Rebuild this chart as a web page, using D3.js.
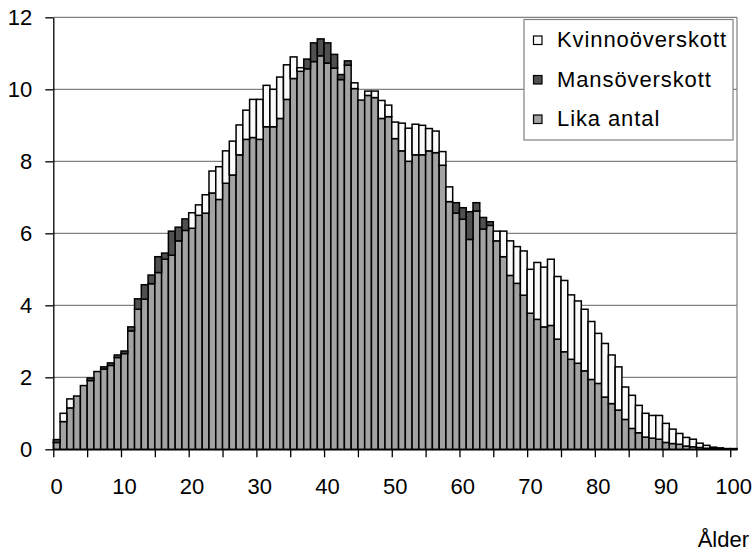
<!DOCTYPE html>
<html>
<head>
<meta charset="utf-8">
<script src="https://cdn.jsdelivr.net/npm/d3@7"></script>
<style>
  html, body { margin: 0; padding: 0; background: #fff; }
  svg { display: block; font-family: "Liberation Sans", Arial, sans-serif; }
</style>
</head>
<body>
<svg id="chart" width="754" height="552"></svg>
<script>
// Ages 0..100
const ages = d3.range(0, 101);

// Lika antal (equal number) – grey base
const lika = [
  0.19, 0.77, 1.15, 1.48, 1.77, 1.91, 2.16, 2.23, 2.33, 2.55,
  2.66, 3.29, 3.89, 4.17, 4.60, 4.91, 5.28, 5.39, 5.79, 6.08,
  6.14, 6.50, 6.56, 7.12, 6.94, 7.39, 7.62, 8.18, 8.61, 8.66,
  8.61, 8.96, 8.96, 9.19, 9.72, 10.30, 10.50, 10.57, 10.77, 10.93,
  10.73, 10.59, 10.27, 10.67, 10.02, 9.70, 9.83, 9.77, 9.19, 9.24,
  8.63, 8.29, 8.00, 8.18, 8.18, 8.29, 8.24, 7.89, 6.88, 6.56,
  6.39, 5.83, 6.62, 6.12, 6.22, 5.79, 5.35, 4.83, 4.61, 4.28,
  3.78, 3.61, 3.40, 3.44, 3.06, 2.71, 2.50, 2.39, 2.18, 1.94,
  1.83, 1.45, 1.27, 1.09, 0.83, 0.58, 0.46, 0.34, 0.31, 0.28,
  0.19, 0.16, 0.14, 0.09, 0.07, 0.05, 0.03, 0.02, 0.01, 0.01,
  0.01
];

// Mansöverskott (male surplus) – dark
const mans = [
  0.08, 0, 0, 0, 0, 0.07, 0, 0.06, 0.07, 0.07,
  0.07, 0.11, 0.29, 0.40, 0.24, 0.44, 0.17, 0.67, 0.38, 0.32,
  0, 0, 0, 0, 0, 0, 0, 0, 0, 0,
  0, 0, 0, 0, 0, 0, 0, 0.27, 0.52, 0.47,
  0.56, 0.38, 0.14, 0.12, 0, 0, 0, 0, 0, 0,
  0, 0, 0, 0, 0, 0, 0, 0, 0, 0.29,
  0.32, 0.77, 0.23, 0.32, 0.10, 0, 0, 0, 0, 0,
  0, 0, 0, 0, 0, 0, 0, 0, 0, 0,
  0, 0, 0, 0, 0, 0, 0, 0, 0, 0,
  0, 0, 0, 0, 0, 0, 0, 0, 0, 0,
  0
];

// Kvinnoöverskott (female surplus) – white
const kvinno = [
  0, 0.23, 0.25, 0, 0, 0, 0, 0, 0, 0,
  0, 0, 0, 0, 0, 0, 0, 0, 0, 0,
  0.43, 0.29, 0.51, 0.61, 0.91, 0.90, 0.94, 0.83, 0.81, 1.06,
  1.11, 1.15, 1.04, 1.15, 0.96, 0.60, 0.10, 0, 0, 0,
  0, 0, 0, 0, 0.16, 0, 0.12, 0.18, 0.50, 0.32,
  0.46, 0.77, 0.92, 0.85, 0.82, 0.62, 0.60, 0.38, 0.41, 0,
  0, 0, 0, 0, 0, 0.27, 0.71, 0.96, 1.02, 1.23,
  1.22, 1.58, 1.66, 1.84, 1.74, 1.98, 1.79, 1.73, 1.71, 1.61,
  1.39, 1.49, 1.35, 1.20, 0.90, 0.92, 0.76, 0.66, 0.63, 0.66,
  0.53, 0.40, 0.30, 0.24, 0.21, 0.12, 0.08, 0.04, 0.03, 0.01,
  0.01
];

const seriesNames = ["Lika antal", "Mansöverskott", "Kvinnoöverskott"];
const yTicks = [0, 2, 4, 6, 8, 10, 12];
const xLabelAges = [0, 10, 20, 30, 40, 50, 60, 70, 80, 90, 100];
const xTickAges = d3.range(0, 101, 5);
const xTitle = "Ålder";

const colors = {
  "Lika antal": "#a3a3a3",
  "Mansöverskott": "#505050",
  "Kvinnoöverskott": "#fafafa"
};

const table = ages.map((a, i) => ({
  age: a,
  "Lika antal": lika[i],
  "Mansöverskott": mans[i],
  "Kvinnoöverskott": kvinno[i]
}));

const svg = d3.select("#chart");
const pLeft = 53.3, pRight = 737, pTop = 17.3, pBottom = 449.3;

const x = d3.scaleBand().domain(ages).range([pLeft, pRight]).paddingInner(0).paddingOuter(0);
const xl = d3.scaleLinear().domain([0, 101]).range([pLeft, pRight]);
const y = d3.scaleLinear().domain([0, 12]).range([pBottom, pTop]);

// gridlines
svg.append("g").selectAll("line").data(yTicks.filter(t => t > 0)).join("line")
  .attr("x1", pLeft).attr("x2", pRight)
  .attr("y1", d => y(d)).attr("y2", d => y(d))
  .attr("stroke", "#808080").attr("stroke-width", 1.2);

// right border
svg.append("line").attr("x1", pRight).attr("x2", pRight).attr("y1", pTop).attr("y2", pBottom)
  .attr("stroke", "#808080").attr("stroke-width", 1.2);

// stacked bars
const stack = d3.stack().keys(seriesNames);
const stacked = stack(table);

svg.append("g").selectAll("g").data(stacked).join("g")
  .attr("fill", d => colors[d.key])
  .selectAll("rect").data(d => d.filter(p => p[1] - p[0] > 0)).join("rect")
  .attr("x", d => x(d.data.age))
  .attr("width", x.bandwidth())
  .attr("y", d => y(d[1]))
  .attr("height", d => y(d[0]) - y(d[1]))
  .attr("stroke", "#000")
  .attr("stroke-width", 1.5);

// y axis
const yAxis = svg.append("g").attr("transform", `translate(${pLeft},0)`)
  .call(d3.axisLeft(y).tickValues(yTicks).tickSize(8).tickSizeOuter(0).tickPadding(13).tickFormat(d3.format("d")));
yAxis.selectAll("path, line").attr("stroke", "#000").attr("stroke-width", 1.3);
yAxis.selectAll("text").attr("font-size", 22).attr("fill", "#000")
  .attr("font-family", "Liberation Sans, Arial, sans-serif");

// x axis ticks (between categories every 5)
const xAxisTicks = svg.append("g").attr("transform", `translate(0,${pBottom})`)
  .call(d3.axisBottom(xl).tickValues(xTickAges).tickSize(8).tickSizeOuter(0).tickFormat(""));
xAxisTicks.selectAll("path, line").attr("stroke", "#000").attr("stroke-width", 1.3);

// x axis labels (centered on categories)
const xAxisLabels = svg.append("g").attr("transform", `translate(0,${pBottom})`)
  .call(d3.axisBottom(x).tickValues(xLabelAges).tickSize(0).tickPadding(29));
xAxisLabels.select(".domain").remove();
xAxisLabels.selectAll("text").attr("font-size", 22).attr("fill", "#000")
  .attr("font-family", "Liberation Sans, Arial, sans-serif");

// x title
svg.append("text").attr("x", 749).attr("y", 547).attr("text-anchor", "end")
  .attr("font-size", 22).attr("fill", "#000").text(xTitle);

// legend
const legendItems = ["Kvinnoöverskott", "Mansöverskott", "Lika antal"];
const lg = svg.append("g");
lg.append("rect").attr("x", 524).attr("y", 19.5).attr("width", 209).attr("height", 120.5)
  .attr("fill", "#fff").attr("stroke", "#808080").attr("stroke-width", 1.2);
const rows = lg.selectAll("g.row").data(legendItems).join("g").attr("class", "row")
  .attr("transform", (d, i) => `translate(0,${47 + i * 39.5})`);
rows.append("rect").attr("x", 533.5).attr("y", -11).attr("width", 8.5).attr("height", 8.5)
  .attr("fill", d => colors[d]).attr("stroke", "#000").attr("stroke-width", 1.2);
rows.append("text").attr("x", 557).attr("y", 0).attr("font-size", 22).attr("letter-spacing", 0.9)
  .attr("fill", "#000").text(d => d);
</script>
</body>
</html>
